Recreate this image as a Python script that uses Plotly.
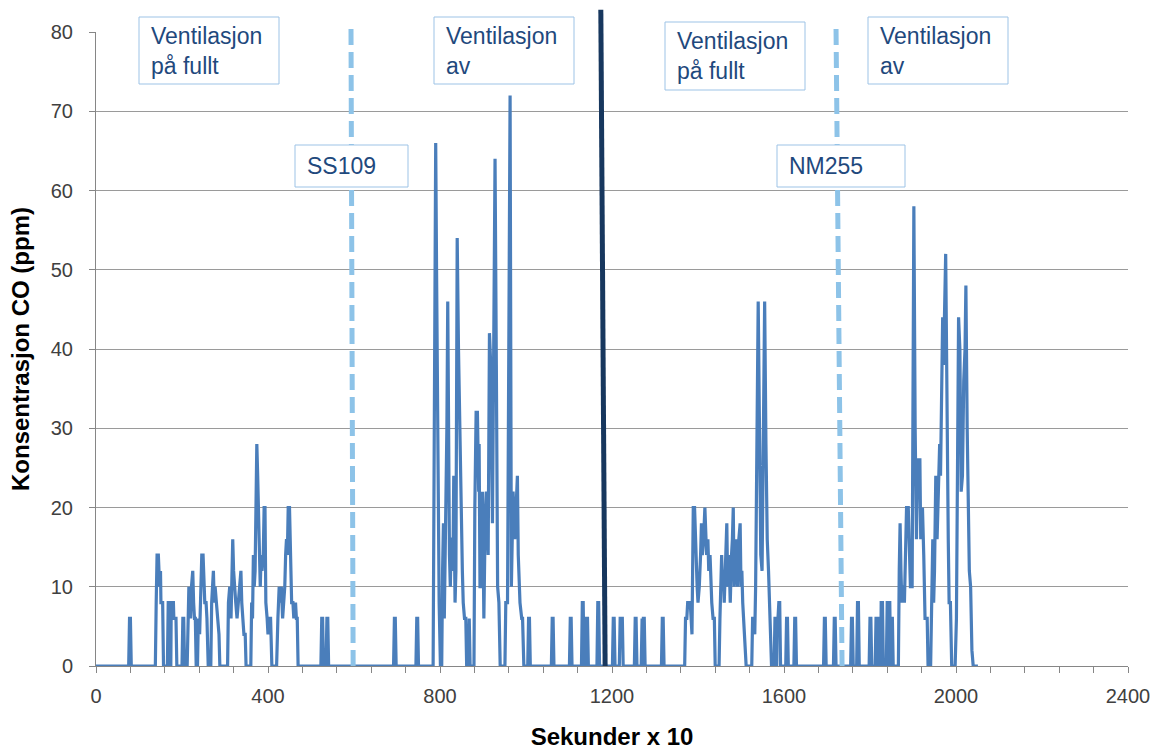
import plotly.graph_objects as go

# ---------------- data ----------------
# time axis in "Sekunder x 10", CO concentration in ppm (vertices of the trace)
t_sec10 = [
    0, 76, 78, 80, 82,
    138, 140, 142, 145, 146, 148, 150, 151, 155, 157,
    166, 168, 171, 172, 174, 175, 180, 181, 186, 188,
    200, 202, 204, 206,
    212, 214, 216, 218, 220, 222, 225, 227, 229, 231, 233,
    236, 238, 241, 243, 246, 249, 251, 253, 256, 258, 261,
    267, 269, 271, 273, 275, 277, 280, 283, 286, 288,
    306, 308, 311, 314, 316, 318, 320, 322, 325, 328, 331, 334, 337, 339, 341, 344, 347, 349,
    360, 362, 364, 366, 368, 370, 372, 374, 376, 378, 380, 382, 384, 386, 389, 391, 393, 395, 398, 400, 403, 406, 409,
    420, 423, 426, 428, 431, 434, 436, 439, 441, 443, 445, 447, 450, 452, 455, 458, 460, 464, 466, 468, 470,
    523, 525, 527, 529, 535, 537, 539, 541,
    692, 694, 696, 698,
    744, 746, 748, 750,
    784, 786, 788, 790, 792, 794, 796, 798, 801,
    804, 806, 808, 810, 812, 814, 816, 818, 820, 822, 824, 826, 828, 830, 832, 835, 837, 840, 843, 846, 848, 850, 852, 854, 857, 860, 862, 866, 868, 870,
    879, 881, 884, 887, 890, 891, 893, 895, 899, 902, 905, 908, 912, 915, 918, 922, 925, 928, 931, 934, 937, 940,
    951, 953, 957, 960, 963, 966, 970, 974, 980, 982, 986, 990, 992, 995,
    1004, 1006, 1008, 1010,
    1059, 1061, 1063, 1065,
    1101, 1103, 1105, 1107,
    1129, 1131, 1133, 1135, 1138, 1140, 1143, 1145,
    1165, 1167, 1169, 1171,
    1201, 1203, 1205, 1207,
    1217, 1219, 1224, 1226,
    1252, 1254, 1256, 1258,
    1268, 1270, 1272, 1273, 1275, 1277,
    1315, 1317, 1319, 1321,
    1369, 1371, 1374, 1376, 1382, 1386, 1389, 1392, 1395, 1398, 1400, 1403, 1406, 1408, 1410, 1413,
    1416, 1418, 1420, 1423, 1425, 1428, 1430, 1432, 1435, 1438, 1440,
    1449, 1451, 1453, 1455, 1457, 1459, 1461, 1464, 1467, 1469, 1471, 1473, 1475, 1478, 1480, 1482,
    1484, 1486, 1488, 1490, 1492, 1495, 1498, 1500, 1502, 1504, 1506, 1509, 1512,
    1525, 1527, 1530, 1532, 1534, 1537, 1540, 1543, 1546, 1549, 1552, 1555, 1558, 1561, 1564, 1566, 1568, 1571,
    1577, 1579, 1581, 1583, 1584, 1586, 1588, 1590, 1592,
    1604, 1606, 1608, 1610,
    1623, 1625, 1627, 1629,
    1692, 1694, 1696, 1698,
    1715, 1717, 1719, 1721,
    1755, 1757, 1759, 1761,
    1769, 1771, 1773, 1775,
    1798, 1800, 1802, 1804,
    1812, 1814, 1816, 1818, 1820, 1823, 1825, 1826, 1829, 1831,
    1838, 1840, 1842, 1843, 1844, 1846, 1848, 1849, 1852, 1854,
    1866, 1868, 1870, 1872, 1874, 1876, 1878, 1880, 1882, 1885, 1889, 1891, 1894, 1898, 1900, 1902,
    1905, 1908, 1911, 1916, 1918, 1922, 1925, 1928, 1933, 1935,
    1941, 1943, 1946, 1948, 1950, 1953, 1956, 1959, 1962, 1964, 1966, 1969, 1971, 1974, 1976, 1978,
    1980, 1982, 1984, 1987, 1990,
    1998, 2001, 2003, 2006, 2009, 2012, 2015, 2018, 2021, 2023, 2026, 2029, 2031, 2034, 2037, 2040, 2051,
]
co_ppm = [
    0, 0, 6, 6, 0,
    0, 8, 14, 14, 12, 10, 12, 8, 8, 0,
    0, 8, 8, 0, 0, 8, 8, 6, 6, 0,
    0, 6, 6, 0,
    0, 8, 10, 8, 6, 10, 12, 8, 6, 6, 0,
    0, 6, 4, 8, 14, 14, 10, 8, 8, 6, 0,
    0, 8, 10, 12, 8, 10, 8, 6, 4, 0,
    0, 8, 10, 6, 12, 16, 12, 10, 8, 6, 8, 10, 12, 8, 6, 4, 4, 0,
    0, 8, 6, 14, 10, 12, 20, 28, 24, 20, 14, 10, 14, 12, 14, 20, 20, 8, 6, 4, 6, 6, 0,
    0, 6, 10, 8, 10, 6, 8, 10, 14, 16, 14, 20, 20, 16, 8, 8, 6, 8, 6, 6, 0,
    0, 6, 6, 0, 0, 6, 6, 0,
    0, 6, 6, 0,
    0, 6, 6, 0,
    0, 20, 52, 66, 50, 34, 20, 8, 0,
    0, 12, 18, 6, 14, 18, 30, 46, 24, 14, 10, 16, 16, 12, 24, 8, 12, 54, 40, 30, 22, 14, 12, 8, 6, 6, 0, 0, 6, 0,
    0, 20, 32, 32, 22, 28, 10, 10, 22, 6, 18, 22, 14, 42, 38, 18, 40, 64, 38, 10, 8, 0,
    0, 8, 8, 40, 72, 10, 22, 16, 24, 14, 8, 6, 6, 0,
    0, 6, 6, 0,
    0, 6, 6, 0,
    0, 6, 6, 0,
    0, 8, 8, 0, 0, 6, 6, 0,
    0, 8, 8, 0,
    0, 6, 6, 0,
    0, 6, 6, 0,
    0, 6, 6, 0,
    0, 6, 0, 6, 6, 0,
    0, 6, 6, 0,
    0, 6, 6, 8, 8, 4, 20, 20, 14, 10, 8, 10, 14, 18, 14, 16,
    20, 16, 14, 16, 12, 14, 10, 8, 6, 6, 0,
    0, 6, 10, 14, 10, 12, 8, 14, 18, 10, 14, 12, 8, 14, 16, 20,
    10, 14, 16, 12, 10, 16, 18, 10, 12, 8, 6, 4, 0,
    0, 6, 6, 4, 10, 30, 46, 30, 14, 12, 30, 46, 28, 16, 12, 8, 6, 0,
    0, 6, 6, 0, 6, 6, 8, 8, 0,
    0, 6, 6, 0,
    0, 6, 6, 0,
    0, 6, 6, 0,
    0, 6, 6, 0,
    0, 6, 6, 0,
    0, 8, 8, 0,
    0, 6, 6, 0,
    0, 6, 6, 0, 6, 6, 0, 8, 8, 0,
    0, 8, 8, 0, 8, 8, 0, 6, 6, 0,
    0, 12, 18, 12, 8, 10, 10, 8, 12, 20, 20, 16, 10, 10, 30, 58,
    30, 16, 26, 26, 16, 20, 14, 6, 6, 0,
    0, 8, 16, 8, 12, 24, 16, 22, 28, 24, 30, 44, 38, 46, 52, 40,
    24, 16, 8, 8, 0,
    0, 6, 26, 44, 40, 22, 24, 36, 40, 48, 30, 14, 12, 10, 2, 0, 0,
]

x_ticks = [0, 400, 800, 1200, 1600, 2000, 2400]
y_ticks = [0, 10, 20, 30, 40, 50, 60, 70, 80]

# markers (x positions in data units, bottom / top of the line)
ss109_x = (598, 593)
switch_x = (1184, 1174)
nm255_x = (1735, 1721)

box_labels = ["Ventilasjon<br>på fullt", "Ventilasjon<br>av",
              "Ventilasjon<br>på fullt", "Ventilasjon<br>av",
              "SS109", "NM255"]
# box rectangles in pixel layout (left, top, right, bottom)
box_px = [(139, 17, 279, 84), (434, 17, 574, 84),
          (665, 22, 805, 90), (868, 17, 1008, 84),
          (295, 145, 408, 187), (777, 145, 905, 187)]

# ---------------- figure ----------------
W, H = 1164, 754
ML, MR, MT, MB = 96, 36, 32, 88
PW, PH = W - ML - MR, H - MT - MB


def px_x(p):
    return (p - ML) / PW


def px_y(p):
    return (H - MB - p) / PH


FONT = "Liberation Sans, Arial, sans-serif"
TXT = "#1F497D"

fig = go.Figure()
fig.add_trace(go.Scatter(
    x=t_sec10, y=co_ppm, mode="lines",
    line=dict(color="#4A7EBB", width=3.2),
    cliponaxis=False, hoverinfo="skip", showlegend=False,
))

shapes = []
for (xb, xt), col, dash, wid, top in [
    (ss109_x, "#8DC3E8", "16px,7px", 5, 1.011),
    (nm255_x, "#8DC3E8", "16px,7px", 5, 1.006),
    (switch_x, "#17375E", "solid", 5, 1.035),
]:
    shapes.append(dict(type="line", xref="x", yref="paper",
                       x0=xb, x1=xt, y0=0, y1=top,
                       line=dict(color=col, width=wid, dash=dash), layer="above"))

annotations = []
for (l, t, r, b), lab in zip(box_px, box_labels):
    shapes.append(dict(type="rect", xref="paper", yref="paper",
                       x0=px_x(l), x1=px_x(r), y0=px_y(b), y1=px_y(t),
                       line=dict(color="#9DC3E6", width=1), fillcolor="white",
                       layer="above"))
    annotations.append(dict(
        xref="paper", yref="paper", x=px_x(l + 10), y=px_y((t + b) / 2),
        xanchor="left", yanchor="middle", align="left", showarrow=False,
        text=lab, font=dict(family=FONT, size=23, color=TXT)))

fig.update_layout(
    width=W, height=H,
    margin=dict(l=ML, r=MR, t=MT, b=MB, autoexpand=False),
    paper_bgcolor="white", plot_bgcolor="white",
    shapes=shapes, annotations=annotations,
    font=dict(family=FONT, size=20, color="#404040"),
    xaxis=dict(
        range=[0, 2400], tickmode="array", tickvals=x_ticks,
        ticks="outside", ticklen=6, tickcolor="#868686", tickwidth=1,
        minor=dict(dtick=80, tick0=0, ticks="outside", ticklen=6,
                   tickcolor="#868686", showgrid=False),
        showline=True, linecolor="#868686", linewidth=1,
        showgrid=False, zeroline=False, ticklabelstandoff=6,
        tickfont=dict(size=20, color="#404040", family=FONT),
        title=dict(text="<b>Sekunder x 10</b>", standoff=22,
                   font=dict(size=24, color="black", family=FONT)),
        automargin=False,
    ),
    yaxis=dict(
        range=[0, 80], tickmode="array", tickvals=y_ticks,
        ticks="outside", ticklen=6, tickcolor="#868686", tickwidth=1,
        showline=True, linecolor="#868686", linewidth=1,
        showgrid=True, gridcolor="#9A9A9A", gridwidth=1,
        zeroline=False, ticklabelstandoff=12,
        tickfont=dict(size=20, color="#404040", family=FONT),
        title=dict(text="<b>Konsentrasjon CO (ppm)</b>", standoff=14,
                   font=dict(size=24, color="black", family=FONT)),
        automargin=False,
    ),
)

fig.write_html("out.html", config={"displayModeBar": False},
               post_script="document.body.style.margin='0px';document.body.style.padding='0px';")
